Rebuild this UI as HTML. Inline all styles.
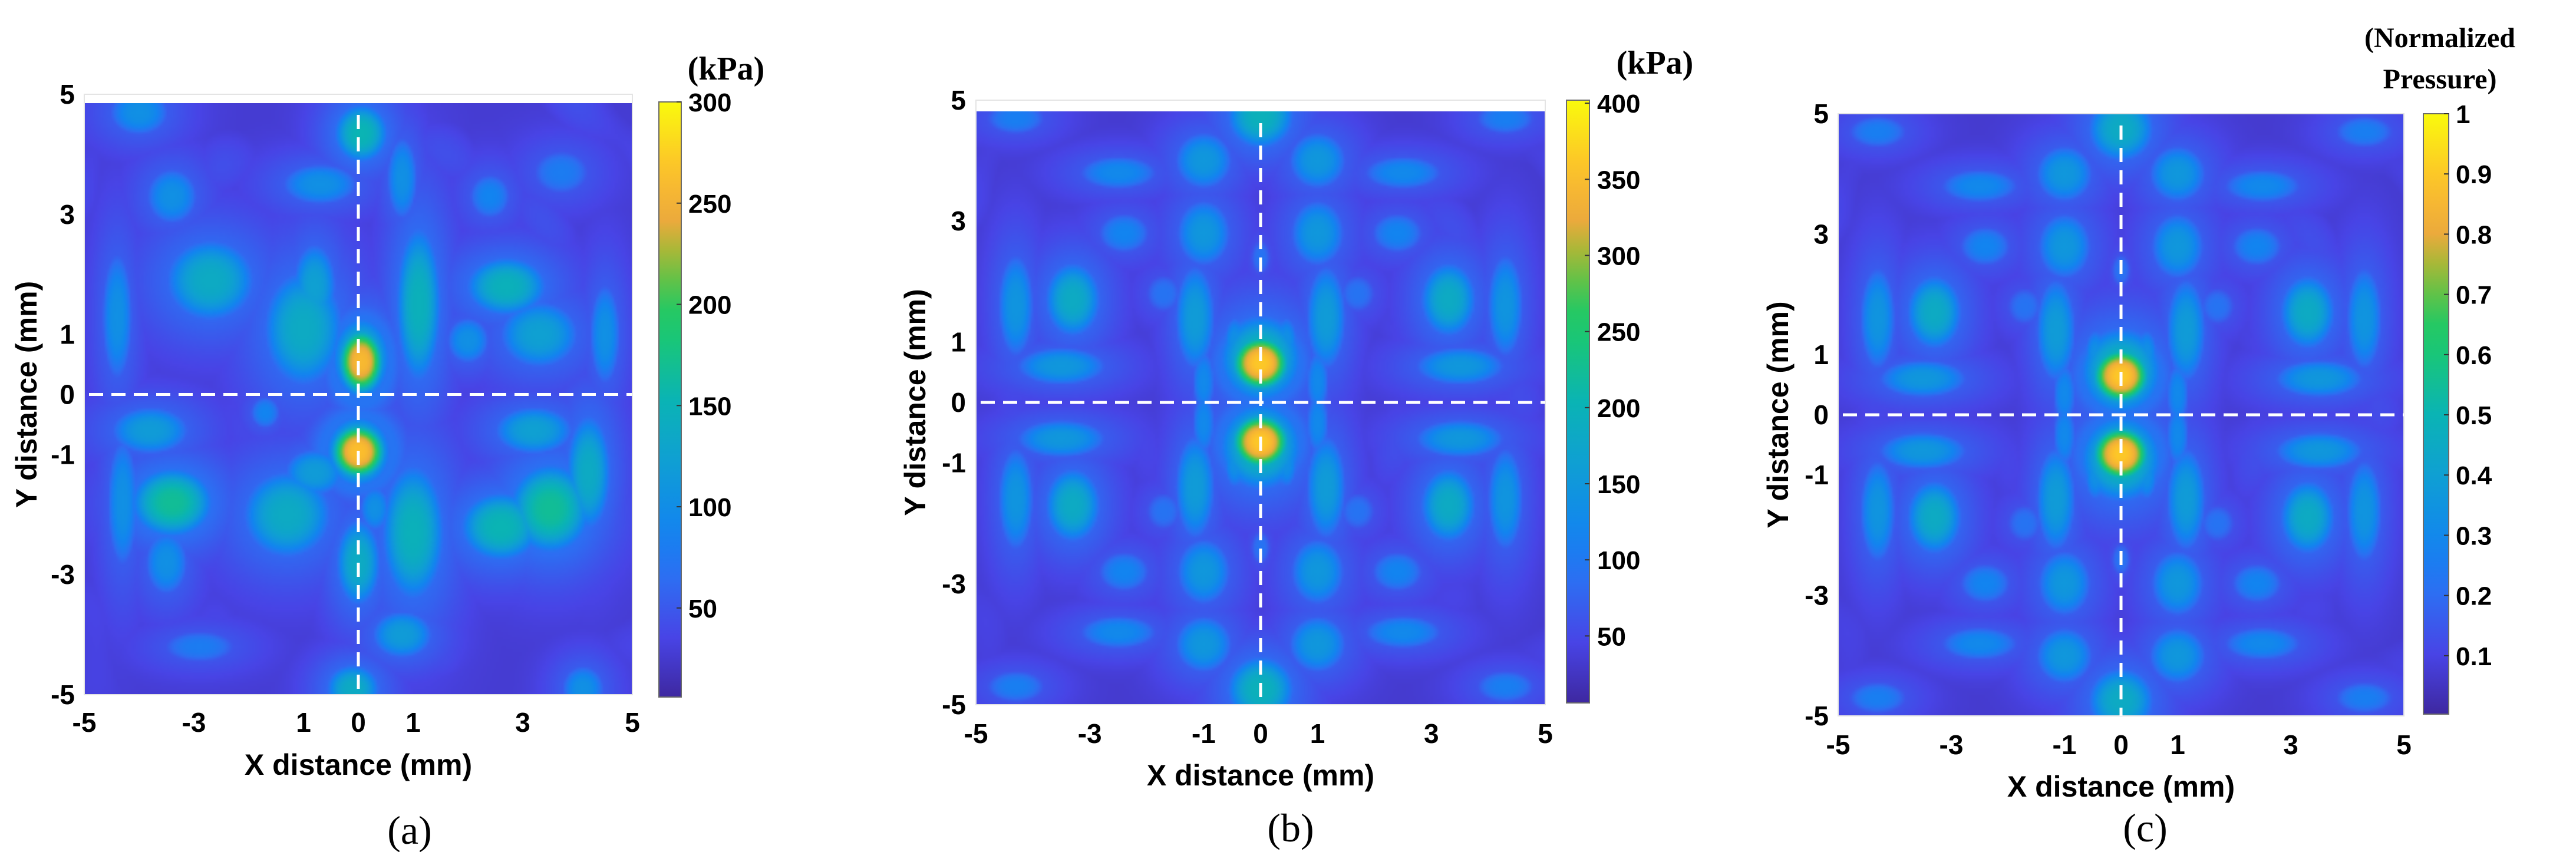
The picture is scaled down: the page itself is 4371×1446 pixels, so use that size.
<!DOCTYPE html>
<html><head><meta charset="utf-8">
<style>
html,body{margin:0;padding:0;background:#fff;}
#root{position:relative;width:4371px;height:1446px;overflow:hidden;background:#fff;}
canvas{position:absolute;}
svg{position:absolute;left:0;top:0;}
</style></head>
<body>
<div id="root">
<svg id="ov" width="4371" height="1446"></svg>
</div>
<script>
// ---------- data ----------
const aBlobX=[0.05,0,0.05,-0.7,0.8,-3.4,-4.0,-2.7,-4.4,-1.0,-0.8,1.1,2.7,3.3,4.5,2.0,-3.4,-3.8,-4.3,-1.3,-0.8,1.0,0.3,2.6,3.5,3.2,4.2,0,0.8,-0.1,-3.5,4.1,-2.9,2.4,3.7,-1.7,0.05,0];
const aBlobY=[0.55,-0.95,4.35,3.5,3.6,3.3,4.7,1.9,1.3,1.1,1.8,1.5,1.8,1.0,1.0,0.9,-1.8,-0.6,-1.8,-2.0,-1.3,-2.3,-1.9,-2.2,-1.9,-0.6,-1.3,-2.8,-4.0,-4.9,-2.8,-4.9,-4.2,3.3,3.7,-0.3,0.6,-0.95];
const aBlobSX=[0.25,0.3,0.3,0.45,0.18,0.3,0.35,0.5,0.18,0.45,0.25,0.25,0.45,0.45,0.18,0.25,0.45,0.45,0.18,0.5,0.35,0.35,0.18,0.45,0.45,0.45,0.25,0.25,0.35,0.3,0.25,0.25,0.45,0.25,0.35,0.18,0.33,0.36];
const aBlobSY=[0.33,0.28,0.3,0.22,0.45,0.3,0.25,0.42,0.7,0.6,0.45,0.8,0.3,0.35,0.55,0.25,0.35,0.25,0.7,0.45,0.25,0.7,0.25,0.35,0.45,0.25,0.6,0.45,0.25,0.25,0.35,0.25,0.18,0.25,0.25,0.18,0.43,0.36];
const aBlobAmp=[0.86,0.88,0.5,0.33,0.33,0.33,0.33,0.45,0.33,0.45,0.4,0.48,0.48,0.4,0.33,0.33,0.55,0.38,0.33,0.45,0.38,0.48,0.33,0.5,0.55,0.4,0.45,0.45,0.38,0.45,0.33,0.33,0.25,0.28,0.25,0.28,0.5,0.55];
const qBlobX=[0,0,0,1.0,1.0,0,1.15,3.3,4.3,3.5,2.5,2.4,0.45,4.3,1.7,1.0];
const qBlobY=[0.65,0.72,4.75,4.0,2.8,2.4,1.4,1.7,1.6,0.6,3.8,2.8,1.0,4.7,1.8,0.35];
const qBlobSX=[0.31,0.45,0.36,0.32,0.3,0.12,0.22,0.3,0.2,0.5,0.45,0.3,0.13,0.35,0.22,0.13];
const qBlobSY=[0.28,0.45,0.34,0.3,0.35,0.2,0.55,0.38,0.55,0.2,0.18,0.22,0.28,0.18,0.22,0.35];
const bBlobAmp=[0.9,0.5,0.48,0.36,0.36,0.22,0.38,0.45,0.35,0.36,0.3,0.28,0.33,0.26,0.22,0.3];
const cBlobAmp=[0.9,0.5,0.45,0.36,0.36,0.22,0.38,0.45,0.35,0.36,0.3,0.28,0.33,0.26,0.22,0.3];
const xTicks=[-5,-3,-1,0,1,3,5];
const aXTickLabels=["-5","-3","1","0","1","3","5"];
const bXTickLabels=["-5","-3","-1","0","1","3","5"];
const yTicks=[5,3,1,0,-1,-3,-5];
const aCbTicks=[50,100,150,200,250,300];
const bCbTicks=[50,100,150,200,250,300,350,400];
const cCbTicks=[0.1,0.2,0.3,0.4,0.5,0.6,0.7,0.8,0.9,1];
const aCbRange=[6,300], bCbRange=[6,402], cCbRange=[0.003,1];

const cmap=[[0,62,40,160],[0.1,72,68,230],[0.2,45,110,242],[0.28,18,132,240],[0.4,15,160,210],[0.5,10,180,180],[0.6,25,198,120],[0.66,40,200,95],[0.73,140,190,55],[0.8,235,170,60],[0.88,252,190,45],[1,250,250,12]];
function col(v){v=Math.max(0,Math.min(1,v));for(let i=1;i<cmap.length;i++){if(v<=cmap[i][0]){const a=cmap[i-1],b=cmap[i],t=(v-a[0])/(b[0]-a[0]);return[a[1]+t*(b[1]-a[1]),a[2]+t*(b[2]-a[2]),a[3]+t*(b[3]-a[3])];}}return cmap[cmap.length-1].slice(1);}

const NS="http://www.w3.org/2000/svg";
const ov=document.getElementById('ov');
const root=document.getElementById('root');
function el(tag,attrs,text){const e=document.createElementNS(NS,tag);for(const k in attrs)e.setAttribute(k,attrs[k]);if(text!==undefined)e.textContent=text;ov.appendChild(e);return e;}

function panel(P){
  const sx=x=>P.L+(x+5)/10*(P.R-P.L);
  const sy=y=>P.B-(y+5)/10*(P.B-P.axT);
  const N=240;
  const cv=document.createElement('canvas');
  cv.width=N;cv.height=N;
  
  
  const imgT=P.imgT;
  cv.style.left=P.L+'px';cv.style.top=imgT+'px';cv.style.width=(P.R-P.L)+'px';cv.style.height=(P.B-imgT)+'px';
  const ctx=cv.getContext('2d');const id=ctx.createImageData(N,N);
  const yTop=5-(imgT-P.axT)/(P.B-P.axT)*10;
  for(let j=0;j<N;j++){const y=yTop-(j+0.5)/N*(yTop+5);
    for(let i=0;i<N;i++){const x=-5+(i+0.5)/N*10;
      let v=P.bg+0.035*Math.sin(x*2.3+y*1.1)*Math.cos(y*1.9-x*0.7)+0.025*Math.sin(Math.hypot(x,y)*3.2);
      let soft=0;
      for(let k=0;k<P.bx.length;k++){const dx=(x-P.bx[k])/(P.bsx[k]*1.3),dy=(y-P.by[k])/(P.bsy[k]*1.3);
        const r2=dx*dx+dy*dy;
        const g=P.amp[k]*Math.exp(-0.5*Math.pow(r2,1.6));if(g>v)v=g;
        const s=P.amp[k]*0.5*Math.exp(-0.5*r2/2.2);if(s>soft)soft=s;}
      soft=Math.min(P.bg+soft*0.7,0.22);if(soft>v)v=soft;
      const c=col(v);const o=(j*N+i)*4;id.data[o]=c[0];id.data[o+1]=c[1];id.data[o+2]=c[2];id.data[o+3]=255;}}
  ctx.putImageData(id,0,0);
  root.insertBefore(cv,ov);
  el('rect',{x:P.L,y:P.axT,width:P.R-P.L,height:P.B-P.axT,fill:'none',stroke:'#e4e4e4','stroke-width':2,});
  el('line',{x1:sx(0),y1:imgT+20,x2:sx(0),y2:P.B,stroke:'#fff','stroke-width':5,'stroke-dasharray':'24 14',});
  el('line',{x1:P.L+8,y1:sy(0),x2:P.R,y2:sy(0),stroke:'#fff','stroke-width':5,'stroke-dasharray':'24 14',});
  const f='font-family:"Liberation Sans",Arial,sans-serif;font-weight:bold;';
  xTicks.forEach((t,i)=>{el('text',{x:sx(t),y:P.xtY,'text-anchor':'middle',style:f+'font-size:46px',},P.xl[i]);});
  yTicks.forEach(t=>{el('text',{x:P.ytR,y:sy(t)+16,'text-anchor':'end',style:f+'font-size:46px',},String(t));});
  el('text',{x:(P.L+P.R)/2,y:P.xtitY,'text-anchor':'middle',style:f+'font-size:50px',},'X distance (mm)');
  el('text',{x:P.ytitX,y:sy(0),'text-anchor':'middle',transform:`rotate(-90 ${P.ytitX} ${sy(0)})`,style:f+'font-size:50px',},'Y distance (mm)');
  const g=el('linearGradient',{id:P.id+'grad',x1:0,y1:1,x2:0,y2:0});
  for(let s=0;s<=20;s++){const c=col(s/20);const st=document.createElementNS(NS,'stop');st.setAttribute('offset',s/20);st.setAttribute('stop-color',`rgb(${c.map(Math.round).join(',')})`);g.appendChild(st);}
  el('rect',{x:P.cx0,y:P.cy0,width:P.cx1-P.cx0,height:P.cy1-P.cy0,fill:`url(#${P.id}grad)`,stroke:'#6b6b6b','stroke-width':2,});
  const cy=v=>P.cy1-(v-P.cr[0])/(P.cr[1]-P.cr[0])*(P.cy1-P.cy0);
  P.ct.forEach(t=>{
    el('line',{x1:P.cx1-8,y1:cy(t),x2:P.cx1,y2:cy(t),stroke:'#333','stroke-width':2,});
    el('text',{x:P.clX,y:cy(t)+16,style:f+'font-size:44px',},String(t));});
  const sf='font-family:"Liberation Serif",serif;font-weight:bold;';
  P.unit.forEach((u,i)=>el('text',{x:P.uX,y:P.uY+i*70,'text-anchor':'middle',style:sf+'font-size:'+P.uS+'px',},u));
  el('text',{x:P.capX,y:P.capY,'text-anchor':'middle',style:'font-family:"Liberation Serif",serif;font-size:68px',},P.cap);
}

panel({id:'panel-a',L:143,R:1073,axT:160,imgT:175,B:1179,bg:0.07,bx:aBlobX,by:aBlobY,bsx:aBlobSX,bsy:aBlobSY,amp:aBlobAmp,
  xl:aXTickLabels,xtY:1242,ytR:127,xtitY:1315,ytitX:62,cx0:1118,cx1:1156,cy0:173,cy1:1183,cr:aCbRange,ct:aCbTicks,clX:1168,
  unit:['(kPa)'],uX:1232,uY:135,uS:56,cap:'(a)',capX:695,capY:1432});

function mirror(xs,ys,sxs,sys,amps){const X=[],Y=[],SX=[],SY=[],A=[];
  xs.forEach((x,i)=>{[[1,1],[-1,1],[1,-1],[-1,-1]].forEach(([mx,my])=>{X.push(x*mx);Y.push(ys[i]*my);SX.push(sxs[i]);SY.push(sys[i]);A.push(amps[i]);});});
  return{X,Y,SX,SY,A};}
const mb=mirror(qBlobX,qBlobY,qBlobSX,qBlobSY,bBlobAmp);
panel({id:'panel-b',L:1656,R:2622,axT:170,imgT:189,B:1196,bg:0.065,bx:mb.X,by:mb.Y,bsx:mb.SX,bsy:mb.SY,amp:mb.A,
  xl:bXTickLabels,xtY:1261,ytR:1639,xtitY:1333,ytitX:1570,cx0:2658,cx1:2697,cy0:170,cy1:1193,cr:bCbRange,ct:bCbTicks,clX:2710,
  unit:['(kPa)'],uX:2808,uY:125,uS:56,cap:'(b)',capX:2190,capY:1428});
const mc=mirror(qBlobX,qBlobY,qBlobSX,qBlobSY,cBlobAmp);
panel({id:'panel-c',L:3119,R:4079,axT:193,imgT:193,B:1215,bg:0.065,bx:mc.X,by:mc.Y,bsx:mc.SX,bsy:mc.SY,amp:mc.A,
  xl:bXTickLabels,xtY:1280,ytR:3103,xtitY:1352,ytitX:3034,cx0:4112,cx1:4155,cy0:193,cy1:1212,cr:cCbRange,ct:cCbTicks,clX:4167,
  unit:['(Normalized','Pressure)'],uX:4140,uY:80,uS:48,cap:'(c)',capX:3640,capY:1428});
</script>
</body></html>
